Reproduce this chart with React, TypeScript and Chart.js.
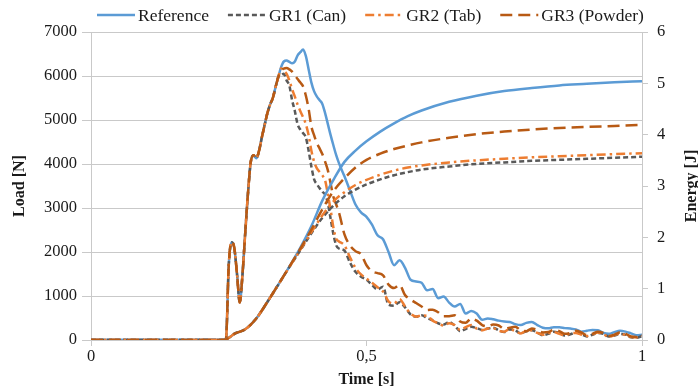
import React, { useEffect, useRef } from "react";
import { Chart, registerables } from "chart.js";

Chart.register(...registerables);

// ---- sample times [s] for the load traces ----
const LOAD_T = [
  0, 0.1, 0.2,
  0.24, 0.245, 0.25, 0.255, 0.26, 0.265, 0.27, 0.275, 0.28, 0.285, 0.29, 0.295,
  0.3, 0.305, 0.31, 0.315, 0.32, 0.325, 0.33, 0.335, 0.34, 0.345, 0.35, 0.355,
  0.36, 0.365, 0.37, 0.375, 0.38, 0.385, 0.39, 0.395, 0.4, 0.405, 0.41, 0.415,
  0.42, 0.425, 0.43, 0.435, 0.44, 0.445, 0.45,
  0.46, 0.47, 0.48, 0.49, 0.5, 0.51, 0.52, 0.53, 0.54, 0.55,
  0.56, 0.57, 0.58, 0.59, 0.6, 0.61, 0.62, 0.63, 0.64, 0.65,
  0.66, 0.67, 0.68, 0.69, 0.7, 0.71, 0.72, 0.73, 0.74, 0.75,
  0.76, 0.77, 0.78, 0.79, 0.8, 0.81, 0.82, 0.83, 0.84, 0.85,
  0.86, 0.87, 0.88, 0.89, 0.9, 0.91, 0.92, 0.93, 0.94, 0.95,
  0.96, 0.97, 0.98, 0.99, 1.0,
];

// ---- load [N] ----
const REF_LOAD = [
  0, 0, 0,
  0, 30, 1700, 2220, 2100, 1500, 850, 1500, 2450, 3350, 4050, 4200,
  4130, 4300, 4600, 4880, 5150, 5350, 5500, 5750, 5980, 6200, 6330, 6350,
  6320, 6290, 6330, 6470, 6540, 6600, 6450, 6150, 5850, 5650, 5530, 5450,
  5360, 5150, 4900, 4650, 4420, 4200, 4020,
  3720, 3400, 3080, 2900, 2800, 2620, 2380, 2290, 2000, 1700,
  1810, 1640, 1370, 1330, 1300, 1130, 1160, 950, 990, 850,
  760, 820, 600, 660, 600, 460, 490, 470, 440, 420,
  410, 360, 340, 390, 410, 340, 280, 265, 290, 290,
  270, 260, 240, 190, 210, 230, 220, 160, 140, 180,
  210, 190, 150, 110, 120,
];

const GR1_LOAD = [
  0, 0, 0,
  0, 30, 1700, 2220, 2100, 1500, 850, 1500, 2450, 3350, 4050, 4200,
  4130, 4300, 4600, 4880, 5150, 5350, 5500, 5750, 5980, 6020, 6050, 5900,
  5780, 5450, 5200, 4900, 4780, 4700, 4600, 4300, 3940, 3650, 3540, 3450,
  3370, 3300, 3100, 2750, 2400, 2150, 2080,
  2030, 1760, 1550, 1440, 1370, 1250, 1150, 1210, 800, 780,
  860, 740, 580, 530, 560, 500, 450, 380, 350, 410,
  330, 200, 250, 300, 270, 230, 260, 280, 220, 180,
  240, 220, 150, 200, 220, 170, 110, 140, 190, 160,
  100, 130, 170, 130, 80, 120, 160, 140, 80, 100,
  140, 120, 60, 50, 90,
];

const GR2_LOAD = [
  0, 0, 0,
  0, 30, 1700, 2220, 2100, 1500, 850, 1500, 2450, 3350, 4050, 4200,
  4130, 4300, 4600, 4880, 5150, 5350, 5500, 5750, 5980, 6170, 6120, 6050,
  5900, 5700, 5530, 5350, 5200, 5060, 4900, 4650, 4300, 4050, 3900, 3820,
  3740, 3620, 3300, 2950, 2550, 2300, 2240,
  2150, 1880, 1640, 1490, 1400, 1300, 1200, 1100, 880, 830,
  930, 760, 600, 530, 560, 550, 440, 380, 330, 380,
  340, 230, 290, 340, 260, 220, 260, 270, 210, 190,
  250, 200, 150, 210, 220, 160, 120, 160, 180, 140,
  110, 150, 160, 120, 90, 130, 170, 130, 70, 110,
  150, 110, 70, 60, 100,
];

const GR3_LOAD = [
  0, 0, 0,
  0, 30, 1700, 2220, 2100, 1500, 850, 1500, 2450, 3350, 4050, 4200,
  4130, 4300, 4600, 4880, 5150, 5350, 5500, 5750, 5980, 6120, 6170, 6180,
  6150, 6100, 6020, 5930, 5850, 5760, 5550, 5250, 4850, 4650, 4470, 4350,
  4220, 4050, 3850, 3550, 3250, 3080, 2900,
  2400, 2150, 2020, 1950, 1700, 1560, 1520, 1470, 1260, 1180,
  1250, 1020, 920, 840, 760, 680, 690, 630, 540, 540,
  560, 420, 390, 490, 440, 340, 310, 350, 330, 250,
  280, 300, 220, 200, 260, 230, 170, 180, 230, 200,
  140, 160, 210, 170, 110, 140, 190, 160, 90, 120,
  170, 140, 80, 70, 110,
];

// ---- sample times [s] for the energy traces ----
const ENERGY_T = [
  0, 0.2, 0.24, 0.25, 0.26, 0.28, 0.3, 0.32, 0.34, 0.36, 0.38, 0.4, 0.42, 0.44,
  0.46, 0.48, 0.5, 0.525, 0.55, 0.575, 0.6, 0.65, 0.7, 0.75, 0.8, 0.85, 0.9,
  0.95, 1.0,
];

// ---- absorbed energy [J] ----
const REF_ENERGY = [
  0, 0, 0, 0.04, 0.12, 0.21, 0.42, 0.74, 1.08, 1.43, 1.8, 2.22, 2.72, 3.12,
  3.47, 3.69, 3.87, 4.06, 4.22, 4.36, 4.47, 4.64, 4.76, 4.85, 4.91, 4.96, 4.99,
  5.02, 5.04,
];
const GR1_ENERGY = [
  0, 0, 0, 0.04, 0.12, 0.21, 0.42, 0.74, 1.08, 1.42, 1.75, 2.08, 2.38, 2.62,
  2.8, 2.93, 3.03, 3.13, 3.21, 3.27, 3.32, 3.38, 3.43, 3.46, 3.49, 3.51, 3.53,
  3.55, 3.57,
];
const GR2_ENERGY = [
  0, 0, 0, 0.04, 0.12, 0.21, 0.42, 0.74, 1.08, 1.42, 1.76, 2.1, 2.43, 2.7,
  2.88, 3.02, 3.12, 3.22, 3.3, 3.36, 3.4, 3.46, 3.5, 3.53, 3.56, 3.58, 3.6,
  3.62, 3.64,
];
const GR3_ENERGY = [
  0, 0, 0, 0.04, 0.12, 0.21, 0.42, 0.74, 1.08, 1.43, 1.78, 2.15, 2.55, 2.9,
  3.15, 3.36, 3.51, 3.63, 3.72, 3.79, 3.85, 3.94, 4.01, 4.06, 4.1, 4.13, 4.15,
  4.17, 4.19,
];

const SERIES_LABELS = ["Reference", "GR1 (Can)", "GR2 (Tab)", "GR3 (Powder)"];
const X_TITLE = "Time [s]";
const Y_TITLE = "Load [N]";
const Y2_TITLE = "Energy [J]";

const SERIF = "'Liberation Serif', 'Times New Roman', serif";

const STYLES = [
  { color: "#5B9BD5", dash: [] as number[] },
  { color: "#595959", dash: [5, 3] },
  { color: "#ED7D31", dash: [9, 4, 2.5, 4] },
  { color: "#B85A14", dash: [12, 6] },
];

const toPoints = (t: number[], v: number[]) => t.map((x, i) => ({ x, y: v[i] }));

// draws the four-entry line legend above the plot
const lineLegend = {
  id: "lineLegend",
  afterDraw(chart: any) {
    const ctx = chart.ctx;
    ctx.save();
    ctx.font = `17.5px ${SERIF}`;
    ctx.textBaseline = "middle";
    ctx.textAlign = "left";
    const y = 15;
    let x = 97;
    SERIES_LABELS.forEach((label, i) => {
      const s = STYLES[i];
      ctx.strokeStyle = s.color;
      ctx.lineWidth = 2.5;
      ctx.setLineDash(s.dash);
      ctx.beginPath();
      ctx.moveTo(x, y);
      ctx.lineTo(x + 38, y);
      ctx.stroke();
      ctx.setLineDash([]);
      x += 41;
      ctx.fillStyle = "#1a1a1a";
      ctx.fillText(label, x, y + 1);
      x += ctx.measureText(label).width + 19;
    });
    ctx.restore();
  },
};

// secondary axis title, read bottom-to-top like the primary one
const rightTitle = {
  id: "rightTitle",
  afterDraw(chart: any) {
    const { ctx, chartArea } = chart;
    ctx.save();
    ctx.translate(692, (chartArea.top + chartArea.bottom) / 2);
    ctx.rotate(-Math.PI / 2);
    ctx.font = `bold 16px ${SERIF}`;
    ctx.fillStyle = "#1a1a1a";
    ctx.textAlign = "center";
    ctx.textBaseline = "middle";
    ctx.fillText(Y2_TITLE, 0, 0);
    ctx.restore();
  },
};

export default function App() {
  const ref = useRef<HTMLCanvasElement | null>(null);

  useEffect(() => {
    if (!ref.current) return;
    const loads = [REF_LOAD, GR1_LOAD, GR2_LOAD, GR3_LOAD];
    const energies = [REF_ENERGY, GR1_ENERGY, GR2_ENERGY, GR3_ENERGY];

    const common = {
      pointRadius: 0,
      borderWidth: 2.5,
      fill: false,
      cubicInterpolationMode: "monotone" as const,
      borderCapStyle: "butt" as const,
    };

    const datasets: any[] = [];
    loads.forEach((vals, i) => {
      datasets.push({
        ...common,
        label: SERIES_LABELS[i],
        data: toPoints(LOAD_T, vals),
        borderColor: STYLES[i].color,
        borderDash: STYLES[i].dash,
        yAxisID: "y",
        order: 8 - i,
      });
    });
    energies.forEach((vals, i) => {
      datasets.push({
        ...common,
        label: SERIES_LABELS[i] + " energy",
        data: toPoints(ENERGY_T, vals),
        borderColor: STYLES[i].color,
        borderDash: STYLES[i].dash,
        yAxisID: "y1",
        order: 4 - i,
      });
    });

    const tickFont = { family: SERIF, size: 16.5 };
    const titleFont = { family: SERIF, size: 16, weight: "bold" as const };
    const gridGray = "#c9c9c9";
    const plain = (v: any) => String(v);

    const chart = new Chart(ref.current, {
      type: "line",
      data: { datasets },
      plugins: [lineLegend, rightTitle],
      options: {
        animation: false,
        responsive: false,
        events: [],
        layout: { padding: { top: 32, left: 0, right: 0, bottom: 0 } },
        plugins: { legend: { display: false }, tooltip: { enabled: false } },
        scales: {
          x: {
            type: "linear",
            min: 0,
            max: 1,
            afterFit: (s: any) => {
              s.height = 49;
            },
            ticks: {
              stepSize: 0.5,
              padding: 1,
              color: "#1a1a1a",
              font: tickFont,
              maxRotation: 0,
              callback: (v: any) => String(v).replace(".", ","),
            },
            grid: {
              drawOnChartArea: false,
              drawTicks: true,
              tickLength: 6,
              color: gridGray,
            },
            border: { color: gridGray, width: 1 },
            title: {
              display: true,
              text: X_TITLE,
              color: "#1a1a1a",
              font: titleFont,
              padding: { top: 0, bottom: 0 },
            },
          },
          y: {
            type: "linear",
            position: "left",
            min: 0,
            max: 7000,
            afterFit: (s: any) => {
              s.width = 91;
            },
            ticks: {
              stepSize: 1000,
              padding: 5,
              color: "#1a1a1a",
              font: tickFont,
              callback: plain,
            },
            grid: { color: gridGray, tickLength: 9, lineWidth: 1 },
            border: { color: gridGray, width: 1 },
            title: {
              display: true,
              text: Y_TITLE,
              color: "#1a1a1a",
              font: titleFont,
              padding: { top: 10, bottom: 0 },
            },
          },
          y1: {
            type: "linear",
            position: "right",
            min: 0,
            max: 6,
            afterFit: (s: any) => {
              s.width = 56;
            },
            ticks: {
              stepSize: 1,
              padding: 9,
              color: "#1a1a1a",
              font: tickFont,
              callback: plain,
            },
            grid: { drawOnChartArea: false, color: gridGray, tickLength: 6 },
            border: { color: gridGray, width: 1 },
          },
        },
      },
    });
    return () => chart.destroy();
  }, []);

  return (
    <div
      style={{
        position: "fixed",
        left: 0,
        top: 0,
        width: 698,
        height: 389,
        background: "#ffffff",
      }}
    >
      <canvas ref={ref} width={698} height={389} style={{ display: "block" }} />
    </div>
  );
}
